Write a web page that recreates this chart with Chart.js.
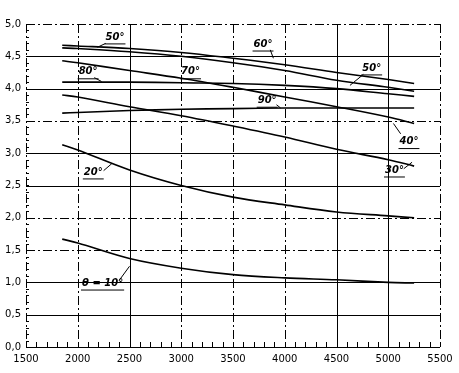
<!DOCTYPE html>
<html>
<head>
<meta charset="utf-8">
<script src="https://cdn.jsdelivr.net/npm/chart.js@4"></script>
<style>
  html, body { margin: 0; padding: 0; background: #fff; }
  canvas { display: block; }
</style>
</head>
<body>
<canvas id="chart" width="459" height="373"></canvas>
<script>
// speed (x axis) and curve values
const rpm = [1850, 2000, 2500, 3000, 3500, 4000, 4500, 5000, 5250];

const curve60 = [4.67, 4.66, 4.62, 4.56, 4.47, 4.37, 4.25, 4.14, 4.08];
const curve50 = [4.63, 4.62, 4.57, 4.50, 4.40, 4.28, 4.13, 4.02, 3.96];
const curve70 = [4.43, 4.40, 4.28, 4.16, 4.02, 3.87, 3.72, 3.56, 3.46];
const curve80 = [4.10, 4.10, 4.10, 4.09, 4.08, 4.05, 4.00, 3.92, 3.88];
const curve30 = [3.90, 3.87, 3.72, 3.58, 3.42, 3.25, 3.06, 2.90, 2.80];
const curve90 = [3.62, 3.63, 3.66, 3.68, 3.69, 3.70, 3.70, 3.70, 3.70];
const curve20 = [3.13, 3.05, 2.74, 2.50, 2.32, 2.20, 2.09, 2.03, 2.00];
const curve10 = [1.67, 1.61, 1.37, 1.22, 1.12, 1.07, 1.04, 1.00, 0.99];

const xTicks = [1500, 2000, 2500, 3000, 3500, 4000, 4500, 5000, 5500];
const yTicks = [0, 0.5, 1, 1.5, 2, 2.5, 3, 3.5, 4, 4.5, 5];

// which grid lines are solid in the scan (others are dash-dot)
const solidX = [2500, 4500, 5000];
const solidY = [0, 0.5, 1, 2.5, 3, 4, 4.5];

// curve labels: text, text anchor, leader line start/end (data units)
const curveLabels = [
  { text: "50°", x: 2360, y: 4.80, from: [2270, 4.70], to: [2190, 4.64] },
  { text: "60°", x: 3790, y: 4.69, from: [3860, 4.60], to: [3890, 4.47] },
  { text: "50°", x: 4840, y: 4.32, from: [4760, 4.22], to: [4630, 4.05] },
  { text: "80°", x: 2100, y: 4.26, from: [2160, 4.17], to: [2230, 4.11] },
  { text: "70°", x: 3090, y: 4.26, from: null, to: null },
  { text: "90°", x: 3830, y: 3.82, from: [3920, 3.75], to: [3960, 3.70] },
  { text: "40°", x: 5200, y: 3.18, from: [5120, 3.30], to: [5050, 3.46] },
  { text: "30°", x: 5060, y: 2.74, from: [5150, 2.76], to: [5230, 2.86] },
  { text: "20°", x: 2150, y: 2.71, from: [2250, 2.73], to: [2330, 2.84] },
  { text: "θ = 10°", x: 2240, y: 0.99, from: [2400, 1.03], to: [2500, 1.25] }
];

const ds = (data) => ({
  data: data.map((v, i) => ({ x: rpm[i], y: v })),
  borderColor: "#000",
  borderWidth: 1.6,
  pointRadius: 0,
  tension: 0.35,
  fill: false
});

const gridPlugin = {
  id: "scanGrid",
  beforeDatasetsDraw(chart) {
    const { ctx, chartArea: a, scales: { x, y } } = chart;
    ctx.save();
    ctx.strokeStyle = "#000";
    ctx.lineWidth = 1;
    xTicks.forEach(t => {
      const px = Math.round(x.getPixelForValue(t)) + 0.5;
      ctx.setLineDash(solidX.includes(t) ? [] : [9, 3, 2, 3]);
      ctx.beginPath(); ctx.moveTo(px, a.top); ctx.lineTo(px, a.bottom); ctx.stroke();
    });
    yTicks.forEach(t => {
      const py = Math.round(y.getPixelForValue(t)) + 0.5;
      ctx.setLineDash(solidY.includes(t) ? [] : [9, 3, 2, 3]);
      ctx.beginPath(); ctx.moveTo(a.left, py); ctx.lineTo(a.right, py); ctx.stroke();
    });
    ctx.setLineDash([]);
    // minor ticks along the bottom and left axes
    for (let v = 1500; v <= 5500; v += 100) {
      const px = Math.round(x.getPixelForValue(v)) + 0.5;
      ctx.beginPath(); ctx.moveTo(px, a.bottom); ctx.lineTo(px, a.bottom - 5); ctx.stroke();
    }
    for (let v = 0; v <= 5.001; v += 0.1) {
      const py = Math.round(y.getPixelForValue(v)) + 0.5;
      ctx.beginPath(); ctx.moveTo(a.left, py); ctx.lineTo(a.left + 3, py); ctx.stroke();
    }
    ctx.restore();
  }
};

const labelPlugin = {
  id: "curveLabels",
  afterDatasetsDraw(chart) {
    const { ctx, scales: { x, y } } = chart;
    ctx.save();
    ctx.fillStyle = "#000";
    ctx.strokeStyle = "#000";
    ctx.lineWidth = 1;
    ctx.font = "italic bold 10px 'DejaVu Sans'";
    ctx.textAlign = "center";
    ctx.textBaseline = "middle";
    curveLabels.forEach(l => {
      const px = x.getPixelForValue(l.x), py = y.getPixelForValue(l.y);
      ctx.fillText(l.text, px, py);
      const w = ctx.measureText(l.text).width;
      ctx.beginPath();
      ctx.moveTo(px - w / 2 - 1, py + 7); ctx.lineTo(px + w / 2 + 1, py + 7);
      ctx.stroke();
      if (l.from) {
        ctx.beginPath();
        ctx.moveTo(x.getPixelForValue(l.from[0]), y.getPixelForValue(l.from[1]));
        ctx.lineTo(x.getPixelForValue(l.to[0]), y.getPixelForValue(l.to[1]));
        ctx.stroke();
      }
    });
    ctx.restore();
  }
};

new Chart(document.getElementById("chart"), {
  type: "line",
  data: {
    datasets: [curve60, curve50, curve70, curve80, curve30, curve90, curve20, curve10].map(ds)
  },
  options: {
    responsive: false,
    animation: false,
    layout: { padding: { top: 24, right: 19, left: 0, bottom: 0 } },
    plugins: { legend: { display: false }, tooltip: { enabled: false } },
    scales: {
      x: {
        type: "linear",
        min: 1500, max: 5500,
        afterBuildTicks: s => { s.ticks = xTicks.map(v => ({ value: v })); },
        afterFit: s => { s.height = 26; },
        grid: { display: false, drawTicks: false },
        border: { display: false },
        ticks: {
          color: "#000", padding: 6, maxRotation: 0,
          font: { family: "DejaVu Sans", size: 10 },
          callback: v => String(v)
        }
      },
      y: {
        min: 0, max: 5,
        afterBuildTicks: s => { s.ticks = yTicks.map(v => ({ value: v })); },
        afterFit: s => { s.width = 26; },
        grid: { display: false, drawTicks: false },
        border: { display: false },
        ticks: {
          color: "#000", padding: 5,
          font: { family: "DejaVu Sans", size: 10 },
          callback: v => v.toFixed(1).replace(".", ",")
        }
      }
    }
  },
  plugins: [gridPlugin, labelPlugin]
});
</script>
</body>
</html>
